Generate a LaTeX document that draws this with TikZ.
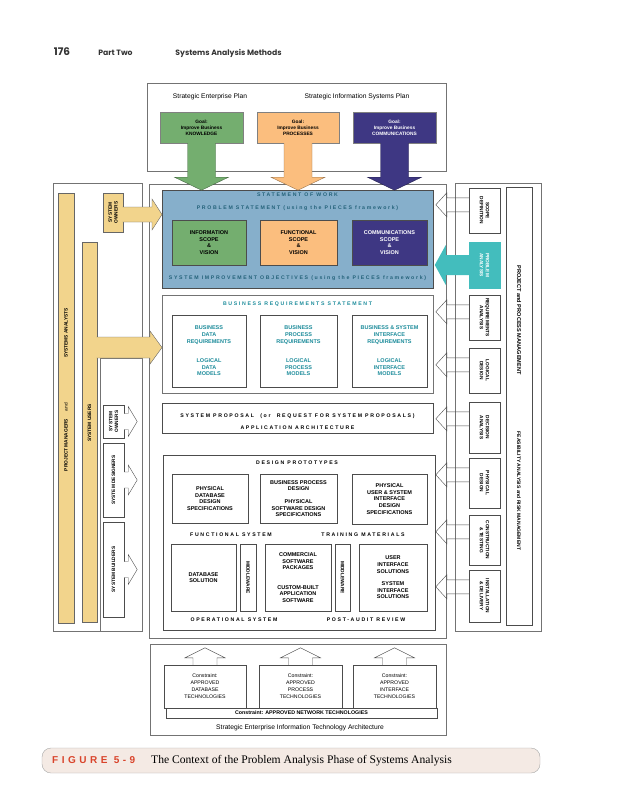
\documentclass[tikz,border=0pt]{standalone}
\usepackage{fontspec}
\setmainfont{Liberation Serif}
\setsansfont{Liberation Sans}
\newfontfamily\headfont{Poppins}
\newfontfamily\spacedfont[LetterSpace=32]{Liberation Sans}
\newfontfamily\figlabelfont[LetterSpace=35]{Liberation Sans}
\usetikzlibrary{calc}
\definecolor{goalgreen}{HTML}{74AE6F}
\definecolor{goalorange}{HTML}{FBBE7E}
\definecolor{goalpurple}{HTML}{3E3783}
\definecolor{sowblue}{HTML}{86AFCB}
\definecolor{sowtext}{HTML}{24627A}
\definecolor{roleyellow}{HTML}{F2D48C}
\definecolor{phasecyan}{HTML}{43BDBD}
\definecolor{brteal}{HTML}{1D8C9B}
\definecolor{figred}{HTML}{D9442B}
\definecolor{capfill}{HTML}{F4EAE4}
\newcommand{\goalfont}{\sffamily\bfseries\fontsize{4.8}{6}\selectfont}
\newcommand{\boxfont}{\sffamily\bfseries\fontsize{5.5}{6.6}\selectfont}
\newcommand{\sidefont}{\sffamily\bfseries\fontsize{4.8}{5.8}\selectfont}
\newcommand{\titlefont}{\spacedfont\bfseries\fontsize{5.2}{6}\selectfont}
\newcommand{\planfont}{\sffamily\fontsize{6.7}{8}\selectfont}
\newcommand{\constraintfont}{\sffamily\fontsize{5.2}{7}\selectfont}
\tikzset{
    frame-box/.style = {draw=black!55, thin},
    goal-box/.style = {draw=black!50, rectangle, inner sep=0pt, align=center, font=\goalfont},
    item-box/.style = {draw=black!70, fill=white, thin, rectangle, inner sep=0pt, align=center, font=\boxfont},
    role-bar/.style = {draw=black!60, fill=roleyellow, thin, rectangle, inner sep=0pt},
    side-label/.style = {font=\sidefont, align=center, inner sep=0pt},
    title-text/.style = {font=\titlefont, inner sep=0pt},
    hollow-arrow/.style = {draw=black!70, thin, line join=miter},
}

\begin{document}
\begin{tikzpicture}[x=1pt, y=-1pt]
\useasboundingbox (0,0) rectangle (619,800);

% page header
\node[font=\headfont\bfseries\fontsize{10.5}{12}\selectfont, text=black!80] (page-no) at (62,52) {176};
\node[font=\headfont\bfseries\fontsize{7.7}{9}\selectfont, text=black!80] (part-no) at (115.5,53) {Part Two};
\node[font=\headfont\bfseries\fontsize{7.7}{9}\selectfont, text=black!80] (chapter) at (228.5,53) {Systems Analysis Methods};

% strategic plans
\draw[frame-box] (147,83) rectangle (446,171);
\node[font=\planfont] (sep-title) at (210,97) {Strategic Enterprise Plan};
\node[font=\planfont] (sisp-title) at (357,97) {Strategic Information Systems Plan};
\node[goal-box, fill=goalgreen, minimum width=83, minimum height=31] (goal-know) at (201.5,127.5) {Goal:\\Improve Business\\KNOWLEDGE};
\node[goal-box, fill=goalorange, minimum width=82, minimum height=31] (goal-proc) at (298,127.5) {Goal:\\Improve Business\\PROCESSES};
\node[goal-box, fill=goalpurple, text=white, minimum width=83, minimum height=31] (goal-comm) at (394.5,127.5) {Goal:\\Improve Business\\COMMUNICATIONS};

% central frame
\draw[frame-box] (149,184) rectangle (446,638);

% statement of work
\node[draw=black!70, fill=sowblue, inner sep=0pt, minimum width=271, minimum height=98] (sow) at (297.5,239) {};
\node[title-text, text=sowtext] (sow-title) at (297.5,195) {STATEMENT OF WORK};
\node[title-text, text=sowtext] (ps-title) at (297.5,208) {PROBLEM STATEMENT (using the PIECES framework)};
\node[title-text, text=sowtext] (sio-title) at (297.5,278) {SYSTEM IMPROVEMENT OBJECTIVES (using the PIECES framework)};
\node[item-box, fill=goalgreen, minimum width=74, minimum height=45] (info-scope) at (209,242.5) {INFORMATION\\SCOPE\\\&\\VISION};
\node[item-box, fill=goalorange, minimum width=77, minimum height=45] (func-scope) at (298.5,242.5) {FUNCTIONAL\\SCOPE\\\&\\VISION};
\node[item-box, fill=goalpurple, text=white, minimum width=75, minimum height=45] (comm-scope) at (389.5,242.5) {COMMUNICATIONS\\SCOPE\\\&\\VISION};

\foreach \g/\c in {goal-know/goalgreen, goal-proc/goalorange, goal-comm/goalpurple}
    \filldraw[fill=\c, draw=\c!60!black, shift={(\g.south)}] (-14,0) -- (-14,34) -- (-27,34) -- (0,47) -- (27,34) -- (14,34) -- (14,0);

% business requirements
\node[draw=black!55, inner sep=0pt, minimum width=271, minimum height=98] (brs) at (297.5,344) {};
\node[title-text, text=brteal] (brs-title) at (297.5,304) {BUSINESS REQUIREMENTS STATEMENT};
\node[item-box, text=brteal, minimum width=74, minimum height=72] (data-req) at (209,351) {BUSINESS\\DATA\\REQUIREMENTS\\[13pt]LOGICAL\\DATA\\MODELS};
\node[item-box, text=brteal, minimum width=77, minimum height=72] (proc-req) at (298.5,351) {BUSINESS\\PROCESS\\REQUIREMENTS\\[13pt]LOGICAL\\PROCESS\\MODELS};
\node[item-box, text=brteal, minimum width=75, minimum height=72] (intf-req) at (389.5,351) {BUSINESS \& SYSTEM\\INTERFACE\\REQUIREMENTS\\[13pt]LOGICAL\\INTERFACE\\MODELS};

% system proposal
\node[draw=black!70, inner sep=0pt, minimum width=271, minimum height=30] (proposal) at (297.5,418) {};
\node[title-text] (proposal-title) at (297.5,416.5) {SYSTEM PROPOSAL \ (or \ REQUEST FOR SYSTEM PROPOSALS)};
\node[title-text] (arch-title) at (297.5,428) {APPLICATION ARCHITECTURE};

% design and construction
\node[draw=black!70, inner sep=0pt, minimum width=272, minimum height=175] (design) at (299,542.5) {};
\node[title-text] (design-title) at (297,463) {DESIGN PROTOTYPES};
\node[item-box, minimum width=76, minimum height=49] (phys-db) at (210,498.5) {PHYSICAL\\DATABASE\\DESIGN\\SPECIFICATIONS};
\node[item-box, minimum width=77, minimum height=49] (sw-design) at (298.5,498.5) {BUSINESS PROCESS\\DESIGN\\[6pt]PHYSICAL\\SOFTWARE DESIGN\\SPECIFICATIONS};
\node[item-box, minimum width=75, minimum height=50] (ui-design) at (389.5,499) {PHYSICAL\\USER \& SYSTEM\\INTERFACE\\DESIGN\\SPECIFICATIONS};
\node[title-text] (func-title) at (231,535) {FUNCTIONAL SYSTEM};
\node[title-text] (train-title) at (363,535) {TRAINING MATERIALS};
\node[item-box, minimum width=65, minimum height=67] (db-sol) at (203.5,577.5) {DATABASE\\SOLUTION};
\node[item-box, minimum width=16, minimum height=67] (mw-left) at (248,577.5) {};
\node[item-box, minimum width=66, minimum height=67] (cots) at (298,577.5) {COMMERCIAL\\SOFTWARE\\PACKAGES\\[13pt]CUSTOM-BUILT\\APPLICATION\\SOFTWARE};
\node[item-box, minimum width=15, minimum height=67] (mw-right) at (342.5,577.5) {};
\node[item-box, minimum width=68, minimum height=67] (ui-sol) at (393,577.5) {USER\\INTERFACE\\SOLUTIONS\\[6pt]SYSTEM\\INTERFACE\\SOLUTIONS};
\node[side-label, rotate=-90] at (mw-left) {MIDDLEWARE};
\node[side-label, rotate=-90] at (mw-right) {MIDDLEWARE};
\node[title-text] (ops-title) at (234,620) {OPERATIONAL SYSTEM};
\node[title-text] (audit-title) at (366,620) {POST-AUDIT REVIEW};

% technology architecture
\draw[frame-box] (150,644) rectangle (446,735);
\node[draw=black!70, inner sep=0pt, minimum width=271, minimum height=10, font=\sffamily\bfseries\fontsize{5.3}{6}\selectfont] (net-bar) at (301.5,713) {Constraint: APPROVED NETWORK TECHNOLOGIES};
\node[draw=black!70, fill=white, inner sep=0pt, align=center, minimum width=82, minimum height=43, font=\constraintfont] (con-db) at (205,686.5) {Constraint:\\APPROVED\\DATABASE\\TECHNOLOGIES};
\node[draw=black!70, fill=white, inner sep=0pt, align=center, minimum width=83, minimum height=43, font=\constraintfont] (con-proc) at (300.5,686.5) {Constraint:\\APPROVED\\PROCESS\\TECHNOLOGIES};
\node[draw=black!70, fill=white, inner sep=0pt, align=center, minimum width=83, minimum height=43, font=\constraintfont] (con-ui) at (394.5,686.5) {Constraint:\\APPROVED\\INTERFACE\\TECHNOLOGIES};
\node[font=\planfont] (seita-title) at (300,728) {Strategic Enterprise Information Technology Architecture};
\foreach \c in {con-db, con-proc, con-ui}
    \draw[hollow-arrow, fill=white, shift={(\c.north)}] (-12,0) -- (-12,-7) -- (-20,-7) -- (0,-17) -- (20,-7) -- (12,-7) -- (12,0);

% stakeholders
\draw[frame-box] (53,183) rectangle (142,631);
\draw[frame-box] (100,358) rectangle (142,631);
\node[role-bar, minimum width=16, minimum height=430] (pm-bar) at (66,408) {};
\node[role-bar, minimum width=15, minimum height=380] (users-bar) at (89.5,432) {};
\node[role-bar, minimum width=20, minimum height=39] (owners-yellow) at (113,212.5) {};
\node[side-label, rotate=90] at (owners-yellow) {SYSTEM\\OWNERS};
\node[side-label, rotate=90] at (66,333) {SYSTEMS ANALYSTS};
\node[side-label, rotate=90, font=\sffamily\fontsize{4.8}{5}\selectfont] at (66,407) {and};
\node[side-label, rotate=90] at (66,445) {PROJECT MANAGERS};
\node[side-label, rotate=90] at (users-bar.center |- 0,423) {SYSTEM USERS};
\coordinate (owners-out) at (122.5,214.5);
\coordinate (users-out) at (96.5,347.5);
\path[fill=roleyellow, draw=black!60, shift={(owners-out)}] (0,-7.5) -- (29.5,-7.5) -- (29.5,-15.5) -- (39.5,0) -- (29.5,15.5) -- (29.5,7.5) -- (0,7.5);
\path[fill=roleyellow, draw=black!60, shift={(users-out)}] (0,-10.5) -- (53.5,-10.5) -- (53.5,-16.5) -- (65.5,0) -- (53.5,16.5) -- (53.5,10.5) -- (0,10.5);
\node[item-box, minimum width=21, minimum height=33] (owners-w) at (113.5,421.5) {};
\node[item-box, minimum width=21, minimum height=74] (designers-w) at (113.5,480) {};
\node[item-box, minimum width=21, minimum height=95] (builders-w) at (113.5,569.5) {};
\node[side-label, rotate=90] at (owners-w) {SYSTEM\\OWNERS};
\node[side-label, rotate=90] at (designers-w) {SYSTEM DESIGNERS};
\node[side-label, rotate=90] at (builders-w) {SYSTEM BUILDERS};
\foreach \w in {owners-w, designers-w, builders-w}
    \draw[hollow-arrow, fill=white, shift={(\w.east)}] (0,-8) -- (4,-8) -- (4,-15) -- (13,0) -- (4,15) -- (4,8) -- (0,8);

% phases
\draw[frame-box] (455,183) rectangle (541,631);
\node[item-box, minimum width=31, minimum height=45] (scope-def) at (484.5,210.5) {};
\node[item-box, fill=phasecyan, draw=phasecyan, minimum width=31, minimum height=46] (prob-anal) at (484.5,265) {};
\node[item-box, minimum width=31, minimum height=45] (req-anal) at (484.5,317.5) {};
\node[item-box, minimum width=31, minimum height=45] (log-design) at (484.5,370.5) {};
\node[item-box, minimum width=31, minimum height=51] (dec-anal) at (484.5,427.5) {};
\node[item-box, minimum width=31, minimum height=50] (phys-design) at (484.5,483) {};
\node[item-box, minimum width=31, minimum height=50] (constr-test) at (484.5,540) {};
\node[item-box, minimum width=31, minimum height=52] (install-del) at (484.5,596) {};
\node[side-label, rotate=-90] at (scope-def) {SCOPE\\DEFINITION};
\node[side-label, rotate=-90, text=white] at (prob-anal) {PROBLEM\\ANALYSIS};
\node[side-label, rotate=-90] at (req-anal) {REQUIREMENTS\\ANALYSIS};
\node[side-label, rotate=-90] at (log-design) {LOGICAL\\DESIGN};
\node[side-label, rotate=-90] at (dec-anal) {DECISION\\ANALYSIS};
\node[side-label, rotate=-90] at (phys-design) {PHYSICAL\\DESIGN};
\node[side-label, rotate=-90] at (constr-test) {CONSTRUCTION\\\& TESTING};
\node[side-label, rotate=-90] at (install-del) {INSTALLATION\\\& DELIVERY};
\node[item-box, minimum width=26, minimum height=438] (mgmt) at (519,406) {};
\node[side-label, rotate=-90, font=\sffamily\bfseries\fontsize{5.6}{6}\selectfont] at (519,320) {PROJECT and PROCESS MANAGEMENT};
\node[side-label, rotate=-90, font=\sffamily\bfseries\fontsize{5}{6}\selectfont] at (519,491) {FEASIBILITY ANALYSIS and RISK MANAGEMENT};
\foreach \p in {scope-def, req-anal, log-design, dec-anal, phys-design, constr-test, install-del}
    \draw[hollow-arrow, shift={($(\p.north west)+(0,17)$)}] (0,-7) -- (-22,-7) -- (-22,-12) -- (-33,0) -- (-22,12) -- (-22,7) -- (0,7);
\fill[phasecyan, shift={(prob-anal.west)}] (1,-10) -- (-23,-10) -- (-23,-20) -- (-34,0) -- (-23,20) -- (-23,10) -- (1,10) -- cycle;

% caption
\node[draw=black!35, fill=capfill, rounded corners=9pt, minimum width=498, minimum height=25] (caption-box) at (291,760.5) {};
\node[font=\figlabelfont\bfseries\fontsize{10}{12}\selectfont, text=figred, anchor=west, inner sep=0pt] (fig-no) at (52,760.5) {FIGURE 5-9};
\node[font=\rmfamily\fontsize{11.6}{13}\selectfont, anchor=west, inner sep=0pt] (fig-title) at (151,761) {The Context of the Problem Analysis Phase of Systems Analysis};
\end{tikzpicture}
\end{document}
